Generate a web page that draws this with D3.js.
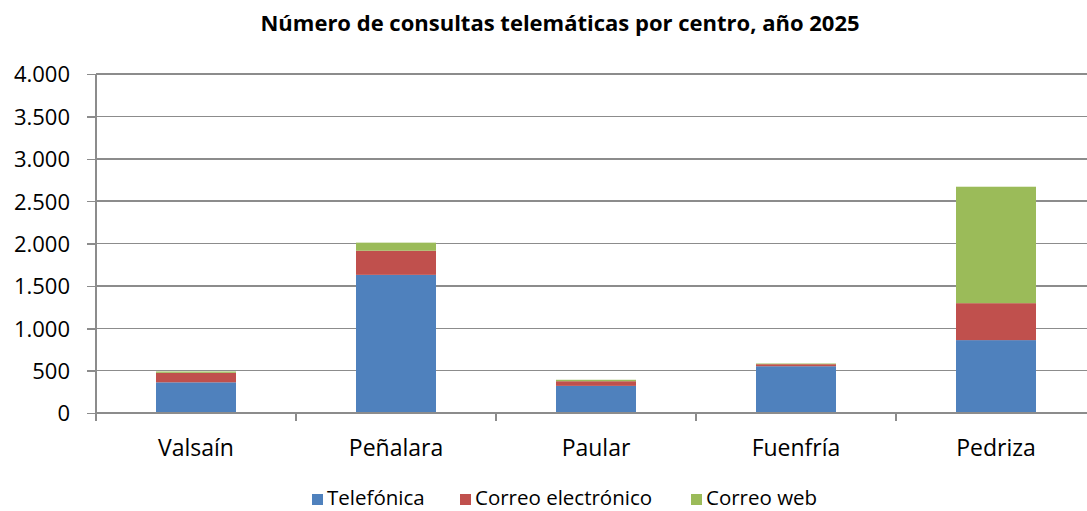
<!DOCTYPE html>
<html lang="es">
<head>
<meta charset="utf-8">
<title>Consultas telemáticas</title>
<style>
  body { margin: 0; background: #fff; }
  text { font-family: "Open Sans", "Noto Sans", sans-serif; fill: #000; }
  .grid line { stroke: #8c8c8c; stroke-width: 1.5px; shape-rendering: crispEdges; }
  .axis path, .axis line { stroke: #8c8c8c; stroke-width: 1.5px; shape-rendering: crispEdges; }
</style>
</head>
<body>
<div id="chart"></div>
<script src="https://cdn.jsdelivr.net/npm/d3@7/dist/d3.min.js"></script>
<script>
var centros = ['Valsaín', 'Peñalara', 'Paular', 'Fuenfría', 'Pedriza'];
var series = ['Telefónica', 'Correo electrónico', 'Correo web'];
var telefonica = [362, 1630, 320, 552, 860];
var correoElectronico = [112, 285, 55, 24, 436];
var correoWeb = [16, 95, 17, 8, 1374];
var yTicks = [0, 500, 1000, 1500, 2000, 2500, 3000, 3500, 4000];
var colors = ['#4f81bd', '#c0504d', '#9bbb59'];

var width = 1087, height = 511;
var margin = { top: 74, left: 96, bottom: 98 };
var plotW = 1000, plotH = height - margin.top - margin.bottom;

var rows = centros.map(function(c, i) {
  return { centro: c, 'Telefónica': telefonica[i], 'Correo electrónico': correoElectronico[i], 'Correo web': correoWeb[i] };
});
var stacked = d3.stack().keys(series)(rows);

var svg = d3.select('#chart').append('svg')
  .attr('width', width)
  .attr('height', height);

svg.append('text')
  .attr('x', 560).attr('y', 31)
  .attr('text-anchor', 'middle')
  .style('font-weight', 'bold')
  .style('font-size', '22px')
  .text('Número de consultas telemáticas por centro, año 2025');

var x = d3.scaleBand().domain(centros).range([0, plotW]).paddingInner(0.6).paddingOuter(0.3);
var xEdges = d3.scaleLinear().domain([0, centros.length]).range([0, plotW]);
var y = d3.scaleLinear().domain([0, 4000]).range([plotH, 0]);

var g = svg.append('g').attr('transform', 'translate(' + margin.left + ',' + margin.top + ')');

g.append('g').attr('class', 'grid')
  .selectAll('line').data(yTicks.slice(1)).enter().append('line')
  .attr('x1', 0).attr('x2', plotW)
  .attr('y1', function(d) { return y(d); })
  .attr('y2', function(d) { return y(d); });

g.selectAll('.serie').data(stacked).enter().append('g')
  .attr('fill', function(d, i) { return colors[i]; })
  .selectAll('rect').data(function(d) { return d; }).enter().append('rect')
  .attr('x', function(d) { return x(d.data.centro); })
  .attr('width', x.bandwidth())
  .attr('y', function(d) { return y(d[1]); })
  .attr('height', function(d) { return y(d[0]) - y(d[1]); });

var yAxis = g.append('g').attr('class', 'axis')
  .call(d3.axisLeft(y).tickValues(yTicks).tickSize(9).tickPadding(17)
    .tickFormat(function(d) { return d3.format(',')(d).replace(/,/g, '.'); }));
yAxis.select('.domain').attr('d', 'M0,' + plotH + 'V0');
yAxis.selectAll('text').style('font-size', '22px').attr('dy', '0.36em').attr('font-family', null);

var xAxis = g.append('g').attr('class', 'axis')
  .attr('transform', 'translate(0,' + plotH + ')');
xAxis.append('line').attr('x1', 0).attr('x2', plotW).attr('y1', 0).attr('y2', 0);
xAxis.selectAll('.tk').data(d3.range(centros.length + 1)).enter().append('line')
  .attr('x1', function(d) { return xEdges(d); })
  .attr('x2', function(d) { return xEdges(d); })
  .attr('y1', 0).attr('y2', 8);
xAxis.selectAll('.lbl').data(centros).enter().append('text')
  .attr('x', function(d) { return x(d) + x.bandwidth() / 2; })
  .attr('y', 43)
  .attr('text-anchor', 'middle')
  .style('font-size', '23px')
  .text(function(d) { return d; });

var legendItems = [
  { name: series[0], x: 312 },
  { name: series[1], x: 460 },
  { name: series[2], x: 691 }
];
var legend = svg.append('g');
legendItems.forEach(function(it, i) {
  legend.append('rect').attr('x', it.x).attr('y', 494).attr('width', 11).attr('height', 11).attr('fill', colors[i]);
  legend.append('text').attr('x', it.x + 15).attr('y', 505).style('font-size', '20.5px').text(it.name);
});
</script>
</body>
</html>
